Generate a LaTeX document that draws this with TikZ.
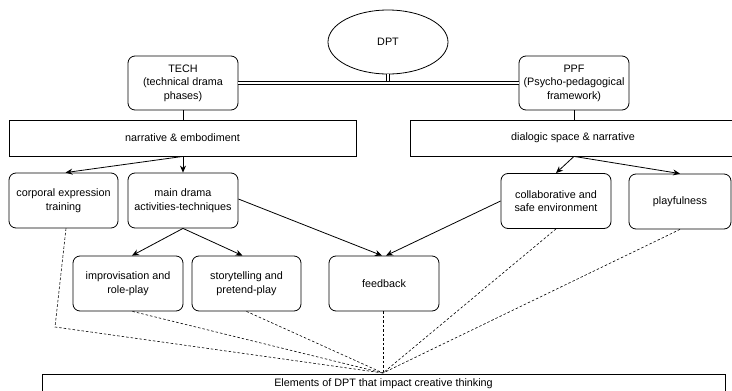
\documentclass[tikz,border=0pt]{standalone}
\usepackage{fontspec}
\setmainfont{Liberation Sans}
\usetikzlibrary{arrows.meta,shapes.geometric}
\begin{document}
\begin{tikzpicture}[x=1pt,y=-1pt,
  txt/.style={font=\fontsize{10.8}{13.5}\selectfont, align=center, inner sep=0pt},
  rbox/.style={txt, draw, line width=0.8pt, rounded corners=7pt},
  sbox/.style={txt, draw, line width=0.8pt},
  conn/.style={line width=0.8pt, -{Stealth[length=7pt,width=6pt]}},
  plain/.style={line width=0.8pt},
  dl/.style={line width=0.6pt, dash pattern=on 2.5pt off 2pt},
  dbl/.style={line width=0.6pt, double, double distance=2pt}]
\path[use as bounding box, clip] (0,0) rectangle (732,391);
\fill[white] (0,0) rectangle (732,391);

\node[txt, draw, ellipse, line width=0.8pt, minimum width=120pt, minimum height=64pt] (dpt) at (388,42) {DPT};
\node[rbox, minimum width=110pt, minimum height=54pt] (tech) at (183,83) {TECH\\(technical drama\\phases)};
\node[rbox, minimum width=110pt, minimum height=54pt] (ppf) at (574,83) {PPF\\(Psycho-pedagogical\\framework)};

\node[sbox, minimum width=347pt, minimum height=36pt] (narr) at (182.5,138) {narrative \& embodiment};
\node[sbox, minimum width=326pt, minimum height=36pt] (dial) at (573,138) {dialogic space \& narrative};

\node[rbox, minimum width=109pt, minimum height=55pt] (corp) at (63.5,200.5) {corporal expression\\training};
\node[rbox, minimum width=110pt, minimum height=55pt] (main) at (183,200.5) {main drama\\activities-techniques};
\node[rbox, minimum width=110pt, minimum height=55pt] (coll) at (556,201) {collaborative and\\safe environment};
\node[rbox, minimum width=102pt, minimum height=55pt] (play) at (680,201.5) {playfulness};

\node[rbox, minimum width=110pt, minimum height=55pt] (impr) at (128,283.5) {improvisation and\\role-play};
\node[rbox, minimum width=109pt, minimum height=55pt] (story) at (246.5,283.5) {storytelling and\\pretend-play};
\node[rbox, minimum width=110pt, minimum height=55pt] (feed) at (384,283.5) {feedback};

\node[sbox, minimum width=683pt, minimum height=20pt] (elem) at (383.5,384) {Elements of DPT that impact creative thinking};

\coordinate (conv) at (383,373);
\coordinate (bend) at (55,327);

% double lines
\draw[dbl] (dpt.south) -- ([yshift=1.3pt]dpt.south |- tech.east);
\draw[dbl] (tech.east) -- (ppf.west);

% plain links
\draw[plain] (tech.south) -- (tech.south |- narr.north);
\draw[plain] (ppf.south) -- (ppf.south |- dial.north);

% arrows
\draw[conn] (tech.south |- narr.south) -- ([xshift=2pt]corp.north);
\draw[conn] (main.north |- narr.south) -- (main.north);
\draw[conn] (ppf.south |- dial.south) -- (coll.north);
\draw[conn] (ppf.south |- dial.south) -- (play.north);
\draw[conn] (main.south) -- ([xshift=4pt]impr.north);
\draw[conn] (main.south) -- ([xshift=-4pt]story.north);
\draw[conn] ([yshift=1.5pt]main.east) -- ([xshift=-2pt]feed.north);
\draw[conn] (coll.west) -- ([xshift=2pt]feed.north);

% dashed
\draw[dl] ([xshift=2.5pt]corp.south) -- (bend) -- (conv);
\draw[dl] ([xshift=4.5pt]impr.south) -- (conv);
\draw[dl] (story.south) -- (conv);
\draw[dl] ([xshift=-1pt]feed.south) -- (conv);
\draw[dl] (coll.south) -- (conv);
\draw[dl] (play.south) -- (conv);
\end{tikzpicture}
\end{document}
